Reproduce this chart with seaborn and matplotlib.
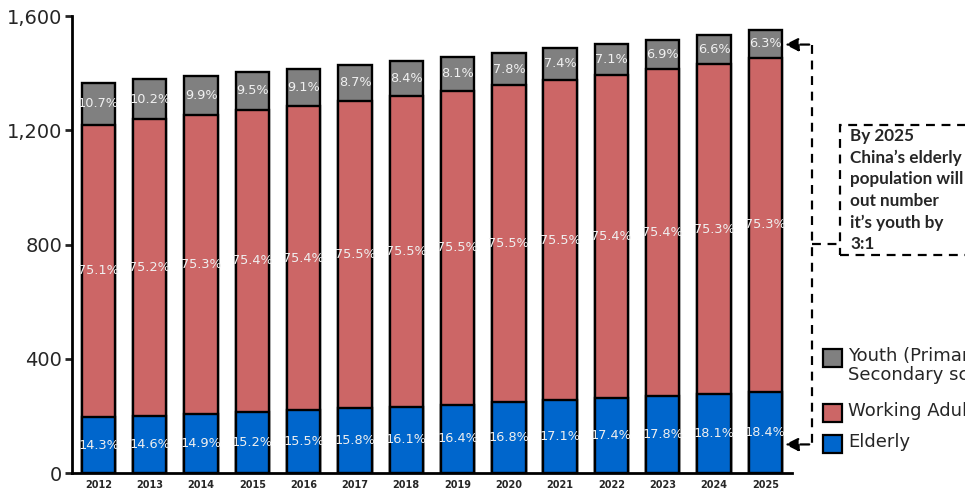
import pandas as pd
import seaborn as sns
import matplotlib.pyplot as plt
from matplotlib.patches import Rectangle

# values (millions of people)
years = [str(y) for y in range(2012, 2026)]
totals = [1365, 1379, 1390, 1404, 1414, 1428, 1442, 1456, 1470, 1488, 1502, 1516, 1533, 1551]
elderly = [195, 201, 207, 213, 219, 226, 232, 239, 247, 254, 261, 270, 277, 285]
working = [1025, 1037, 1047, 1059, 1066, 1078, 1089, 1099, 1110, 1123, 1132, 1143, 1154, 1168]
youth_pct = [10.7, 10.2, 9.9, 9.5, 9.1, 8.7, 8.4, 8.1, 7.8, 7.4, 7.1, 6.9, 6.6, 6.3]
working_pct = [75.1, 75.2, 75.3, 75.4, 75.4, 75.5, 75.5, 75.5, 75.5, 75.5, 75.4, 75.4, 75.3, 75.3]
elderly_pct = [14.3, 14.6, 14.9, 15.2, 15.5, 15.8, 16.1, 16.4, 16.8, 17.1, 17.4, 17.8, 18.1, 18.4]

legend_labels = ['Youth (Primary &\nSecondary school)', 'Working Adults', 'Elderly']

c_youth = '#808080'
c_work = '#CC6666'
c_old = '#0066CC'

df = pd.DataFrame({'year': years, 'total': totals, 'elderly': elderly, 'working': working})
df['elderly_working'] = df['elderly'] + df['working']

sns.set_style('white')
plt.rcParams['font.family'] = ['DejaVu Sans']

fig = plt.figure(figsize=(9.65, 4.9), dpi=100)
ax = fig.add_axes([72 / 965, 1 - 473 / 490, 720 / 965, 457 / 490])

# stacked bars drawn as overlapping cumulative bars
bar_kw = dict(width=0.65, edgecolor='black', linewidth=1.7, saturation=1)
sns.barplot(data=df, x='year', y='total', color=c_youth, ax=ax, **bar_kw)
sns.barplot(data=df, x='year', y='elderly_working', color=c_work, ax=ax, **bar_kw)
sns.barplot(data=df, x='year', y='elderly', color=c_old, ax=ax, **bar_kw)

for i in range(len(years)):
    e = elderly[i]
    ew = e + working[i]
    t = totals[i]
    kw = dict(ha='center', va='center', color='#f0f0f0', fontsize=9.3)
    ax.text(i, e / 2, f'{elderly_pct[i]}%', **kw)
    ax.text(i, (e + ew) / 2, f'{working_pct[i]}%', **kw)
    ax.text(i, (ew + t) / 2, f'{youth_pct[i]}%', **kw)

ax.set_ylim(0, 1600)
ax.set_xlim(-0.517, 13.52)
ax.set_yticks([0, 400, 800, 1200, 1600])
ax.set_yticklabels(['0', '400', '800', '1,200', '1,600'], fontsize=14)
ax.set_xticks(range(len(years)))
ax.set_xticklabels(years, fontsize=7, fontweight='bold')
ax.tick_params(axis='y', length=5, width=2, direction='out', left=True, pad=2)
ax.tick_params(axis='x', length=0, pad=5)
ax.set_xlabel('')
ax.set_ylabel('')
for s in ['top', 'right']:
    ax.spines[s].set_visible(False)
for s in ['left', 'bottom']:
    ax.spines[s].set_linewidth(2)
    ax.spines[s].set_color('black')

# dashed callout linking 2025 youth and elderly segments
dash = (0, (4, 3))
vx = 13.91
ax.plot([vx, vx], [1500, 100], ls=dash, color='black', lw=1.6, clip_on=False)
for yv in [1500, 100]:
    ax.annotate('', xy=(13.33, yv), xytext=(vx, yv),
                arrowprops=dict(arrowstyle='-|>', color='black', lw=1.6, ls=dash,
                                mutation_scale=20), annotation_clip=False)
ax.plot([vx, 14.45], [802, 802], ls=dash, color='black', lw=1.6, clip_on=False)

fig.patches.append(Rectangle((840 / 965, 1 - 255 / 490), 160 / 965, 130 / 490,
                             transform=fig.transFigure, fill=False, edgecolor='black',
                             lw=1.6, ls=dash))
fig.text(850 / 965, 1 - 128 / 490,
         'By 2025\nChina\u2019s elderly\npopulation will\nout number\nit\u2019s youth by\n3:1',
         ha='left', va='top', fontsize=12.3, fontweight='bold', family=['Lato', 'DejaVu Sans'],
         linespacing=1.42)

# legend: square swatches aligned with the first line of each label
colors = [c_youth, c_work, c_old]
label_y = [358, 413, 444]
for col, lab, yp in zip(colors, legend_labels, label_y):
    fig.patches.append(Rectangle((823 / 965, 1 - (yp + 9) / 490), 19 / 965, 18 / 490,
                                 transform=fig.transFigure, facecolor=col,
                                 edgecolor='black', lw=1.6))
    fig.text(848 / 965, 1 - (yp - 11) / 490, lab, ha='left', va='top', fontsize=13,
             linespacing=1.05)

fig.savefig('out.png', dpi=100)
